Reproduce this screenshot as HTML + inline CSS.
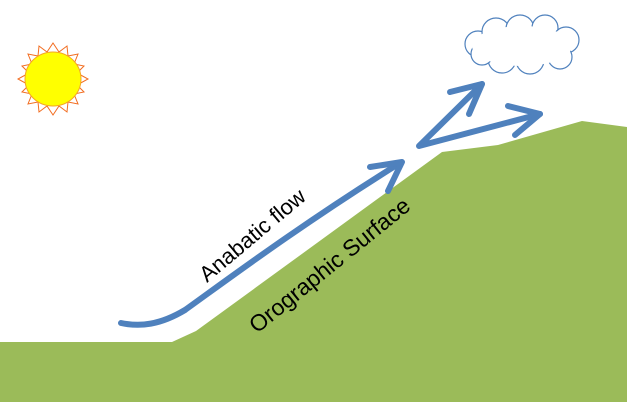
<!DOCTYPE html>
<html><head><style>
html,body{margin:0;padding:0;background:#fff;}
svg{display:block;}
text{font-family:"Liberation Sans",sans-serif;fill:#000;}
</style></head><body>
<svg width="627" height="402" viewBox="0 0 627 402" xmlns="http://www.w3.org/2000/svg">
<polygon points="0,342 172,342 196,331 442,152 498,145 582,121 627,127 627,402 0,402" fill="#9bbb59"/>
<!-- sun -->
<g transform="translate(53,79)">
<polygon fill="#fff" stroke="#f26d21" stroke-width="1" points="
0,-36 6,-27 14,-33 15,-23 25,-25 21,-15 31,-13 24,-6 35,0 24,6 31,13 21,15 25,25 15,23 14,33 6,27 0,36 -6,27 -14,33 -15,23 -25,25 -21,15 -31,13 -24,6 -35,0 -24,-6 -31,-13 -21,-15 -25,-25 -15,-23 -14,-33 -6,-27"/>
<ellipse cx="0" cy="0" rx="28" ry="27" fill="#ffff00" stroke="#f5a623" stroke-width="1"/>
</g>
<!-- cloud -->
<g fill="#fff" stroke="#4f81bd" stroke-width="1.2">
<circle cx="478" cy="44" r="13"/>
<circle cx="496" cy="32" r="14"/>
<circle cx="520" cy="29" r="14"/>
<circle cx="545" cy="28" r="13"/>
<circle cx="566" cy="40" r="13"/>
<circle cx="560" cy="57" r="12"/>
<circle cx="530" cy="60" r="14"/>
<circle cx="502" cy="59" r="14"/>
<circle cx="482" cy="54" r="11"/>
</g>
<ellipse cx="522" cy="46" rx="50" ry="20" fill="#fff"/>
<!-- arrows -->
<g fill="none" stroke="#4f81bd" stroke-width="6" stroke-linecap="round" stroke-linejoin="round">
<path d="M121,323 C140,327 160,325 185,310 C220,285 300,225 400,163"/>
<path d="M370,167 L402,162 L388,191"/>
<path d="M482,84 L419,146 L540,114"/>
<path d="M450,92 L482,84 L469,114"/>
<path d="M508,106 L540,114 L515,135"/>
</g>
<text x="0" y="0" font-size="22" transform="translate(207,283) rotate(-40)">Anabatic flow</text>
<text x="0" y="0" font-size="23" transform="translate(257,334) rotate(-39)">Orographic Surface</text>
</svg>
</body></html>
